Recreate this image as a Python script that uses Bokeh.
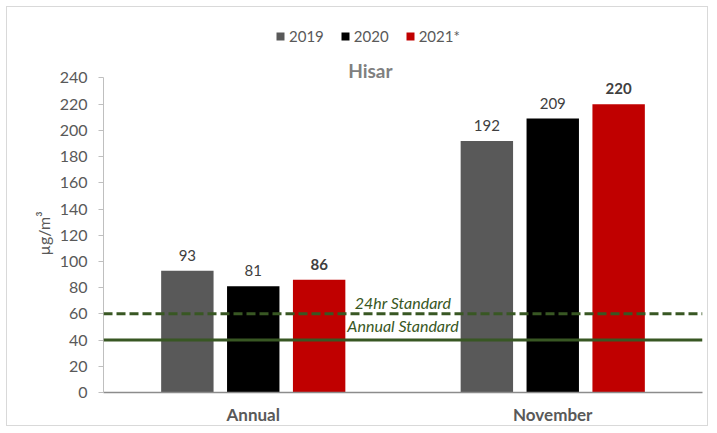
from bokeh.plotting import figure
from bokeh.models import (ColumnDataSource, FactorRange, Range1d, Span, Label, LabelSet,
                          Legend, LegendItem, FixedTicker, Title)
from bokeh.core.properties import value
from bokeh.transform import dodge
from bokeh.embed import file_html
from bokeh.resources import INLINE

# ---- data ----
categories = ["Annual", "November"]
years = ["2019", "2020", "2021*"]
v2019 = [93, 192]
v2020 = [81, 209]
v2021 = [86, 220]
std_24hr = 60
std_annual = 40
y_ticks = [0, 20, 40, 60, 80, 100, 120, 140, 160, 180, 200, 220, 240]

colors = ["#595959", "#000000", "#c00000"]
offsets = [-0.22, 0.0, 0.22]
FONT = "Lato"

src = ColumnDataSource(dict(
    cat=categories, y2019=v2019, y2020=v2020, y2021=v2021,
    t2019=[str(v) for v in v2019], t2020=[str(v) for v in v2020], t2021=[str(v) for v in v2021],
))

p = figure(width=702, height=420, output_backend="svg", toolbar_location=None,
           title_location=None,
           x_range=FactorRange(factors=categories, range_padding=0, factor_padding=0),
           y_range=Range1d(0, 291.5),
           min_border_left=96, min_border_right=7, min_border_top=3, min_border_bottom=32)
p.styles = {"border": "1px solid #d9d9d9", "margin-left": "6px", "margin-top": "6px"}
p.outline_line_color = None
p.xgrid.grid_line_color = None
p.ygrid.grid_line_color = None
p.background_fill_color = "white"
p.border_fill_color = "white"

renderers = []
for yr, col, off, key in zip(years, colors, offsets, ["y2019", "y2020", "y2021"]):
    r = p.vbar(x=dodge("cat", off, range=p.x_range), top=key, width=0.175, source=src,
               fill_color=col, line_color=None)
    renderers.append(r)

for off, key, bold in zip(offsets, ["t2019", "t2020", "t2021"], [False, False, True]):
    ls = LabelSet(x=dodge("cat", off, range=p.x_range), y=key.replace("t", "y"), text=key,
                  source=src, text_align="center", text_baseline="bottom", y_offset=10,
                  text_font=value(FONT), text_font_size=value("15px"),
                  text_color=value("#404040"),
                  text_font_style=value("bold" if bold else "normal"))
    p.add_layout(ls)

# standards
green = "#385723"
p.add_layout(Span(location=std_24hr, dimension="width", line_color=green, line_width=3,
                  line_dash="9 4"))
p.add_layout(Span(location=std_annual, dimension="width", line_color=green, line_width=3))
p.add_layout(Label(x=1.0, y=std_24hr, text="24hr Standard", text_align="center",
                   text_baseline="bottom", y_offset=2, text_font=FONT, text_font_size="16px",
                   text_font_style="italic", text_color=green))
p.add_layout(Label(x=1.0, y=std_annual, text="Annual Standard", text_align="center",
                   text_baseline="bottom", y_offset=5, text_font=FONT, text_font_size="16px",
                   text_font_style="italic", text_color=green))

# title
p.add_layout(Label(x=0.891, y=245.5, text="Hisar", text_align="center", text_baseline="middle",
                   text_font=FONT, text_font_size="19px", text_font_style="bold",
                   text_color="#808080"))
# y axis label as a left-side title
p.add_layout(Title(text="µg/m³", align="left", offset=137, text_font=FONT,
                   text_font_size="16px", text_font_style="normal", text_color="#595959",
                   standoff=8), "left")

# axes
p.yaxis.ticker = FixedTicker(ticks=y_ticks)
p.yaxis.bounds = (0, 240)
p.yaxis.axis_line_color = "#bfbfbf"
p.yaxis.major_tick_line_color = "#bfbfbf"
p.yaxis.major_tick_out = 5
p.yaxis.major_tick_in = 0
p.yaxis.minor_tick_line_color = None
p.yaxis.major_label_standoff = 11
p.yaxis.major_label_text_font = FONT
p.yaxis.major_label_text_font_size = "16px"
p.yaxis.major_label_text_color = "#595959"

p.xaxis.axis_line_color = "#8c8c8c"
p.xaxis.axis_line_width = 1.5
p.xaxis.major_tick_line_color = None
p.xaxis.major_tick_out = 0
p.xaxis.major_tick_in = 0
p.xaxis.major_label_standoff = 11
p.xaxis.major_label_text_font = FONT
p.xaxis.major_label_text_font_size = "17px"
p.xaxis.major_label_text_font_style = "bold"
p.xaxis.major_label_text_color = "#595959"

legend = Legend(items=[LegendItem(label=y, renderers=[r]) for y, r in zip(years, renderers)],
                orientation="horizontal", location=(172, 346), glyph_width=10, glyph_height=10,
                label_standoff=4, spacing=16, padding=0, margin=0, border_line_color=None,
                background_fill_alpha=0, label_text_font=FONT, label_text_font_size="15px",
                label_text_color="#595959", label_height=20)
p.add_layout(legend)

open("out.html", "w").write(file_html(p, INLINE))
